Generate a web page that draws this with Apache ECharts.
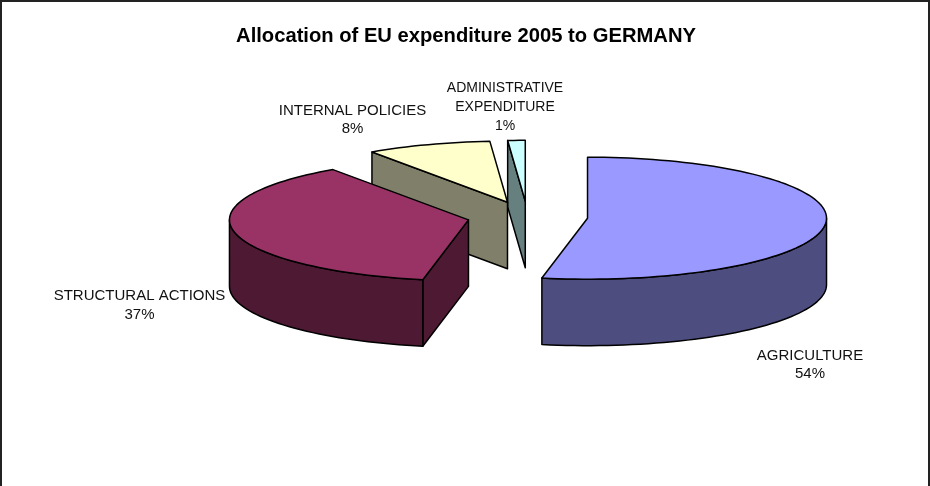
<!DOCTYPE html>
<html><head><meta charset="utf-8">
<style>html,body{margin:0;padding:0;background:#fff}#c{width:930px;height:486px}</style>
<script src="https://cdn.jsdelivr.net/npm/echarts@6/dist/echarts.min.js"></script>
</head><body><div id="c"></div>
<script>
const chartTitle = 'Allocation of EU expenditure 2005 to GERMANY';
const categories = ['AGRICULTURE', 'STRUCTURAL ACTIONS', 'INTERNAL POLICIES', 'ADMINISTRATIVE\nEXPENDITURE'];
const shares = [54, 37, 8, 1];
const topColors = ['#9999ff', '#993366', '#ffffcc', '#ccffff'];
const sideColors = ['#4d4d80', '#4d1933', '#80806a', '#668080'];
const labelAnchors = [[810, 365], [139.5, 305.5], [352.5, 120], [505, 107]];
const labelSizes = [15, 15, 15, 14];
const pie = {cx: 527.5, cy: 216.7, rx: 239, ry: 61, depth: 66.5, explode: 60.3};

const total = shares.reduce((a, b) => a + b, 0);
const cumulative = shares.reduce((acc, v) => { acc.push(acc[acc.length - 1] + v); return acc; }, [0]);
// slight foreshortening of the tilted disc, as in the spreadsheet's 3-D view
const projected = t => 360 * t - 10 * t * Math.pow(1 - t, 0.6);
const rad = d => d * Math.PI / 180;

function renderSlice(params, api) {
  const i = params.dataIndex;
  const a = projected(cumulative[i] / total), b = projected((cumulative[i] + api.value(0)) / total);
  const mid = (a + b) / 2;
  const c = [pie.cx + pie.explode * Math.sin(rad(mid)),
             pie.cy - pie.explode * Math.cos(rad(mid)) * pie.ry / pie.rx];
  const rim = (t, dz = 0) => [c[0] + pie.rx * Math.sin(rad(t)), c[1] - pie.ry * Math.cos(rad(t)) + dz];
  const arc = (from, to, dz = 0) => {
    const n = Math.max(2, Math.ceil(Math.abs(to - from) / 2)), out = [];
    for (let k = 0; k <= n; k++) out.push(rim(from + (to - from) * k / n, dz));
    return out;
  };
  const style = fill => ({fill, stroke: '#000', lineWidth: 1.5, lineJoin: 'round'});
  const poly = (points, fill) => ({type: 'polygon', shape: {points}, style: style(fill)});
  const children = [];
  const d = pie.depth;
  const side = sideColors[i];
  const flatFace = t => poly([c, rim(t), rim(t, d), [c[0], c[1] + d]], side);
  if (Math.sin(rad(a)) < -1e-6) children.push(flatFace(a));
  if (Math.sin(rad(b)) > 1e-6) children.push(flatFace(b));
  const wa = Math.max(a, 90), wb = Math.min(b, 270);
  if (wb > wa) children.push(poly(arc(wa, wb).concat(arc(wb, wa, d)), side));
  children.push(poly([c].concat(arc(a, b)), topColors[i]));
  children.push({
    type: 'text', x: labelAnchors[i][0], y: labelAnchors[i][1],
    style: {text: categories[i] + '\n' + api.value(0) + '%', fill: '#111', align: 'center',
            verticalAlign: 'middle', font: labelSizes[i] + 'px "Liberation Sans", Arial, sans-serif', lineHeight: 18.7}
  });
  return {type: 'group', children: children.map(ch => Object.assign(ch, {z2: Math.round(100 - 100 * Math.cos(rad(mid))) + (ch.type === 'text' ? 500 : 0)}))};
}

const chart = echarts.init(document.getElementById('c'), null, {renderer: 'canvas'});
chart.setOption({
  animation: false,
  backgroundColor: '#fff',
  title: {text: chartTitle, left: 461, top: 21, textAlign: 'center',
    textStyle: {fontFamily: '"Liberation Sans", Arial, sans-serif', fontSize: 20.2, fontWeight: 'bold', color: '#000'}},
  graphic: [{type: 'rect', silent: true, z: -1, shape: {x: 1, y: 1, width: 928, height: 500},
    style: {fill: 'none', stroke: '#222', lineWidth: 2}}],
  series: [{type: 'custom', coordinateSystem: 'none', silent: true, clip: false,
    renderItem: renderSlice, data: shares.map(v => [v])}]
});
</script></body></html>
